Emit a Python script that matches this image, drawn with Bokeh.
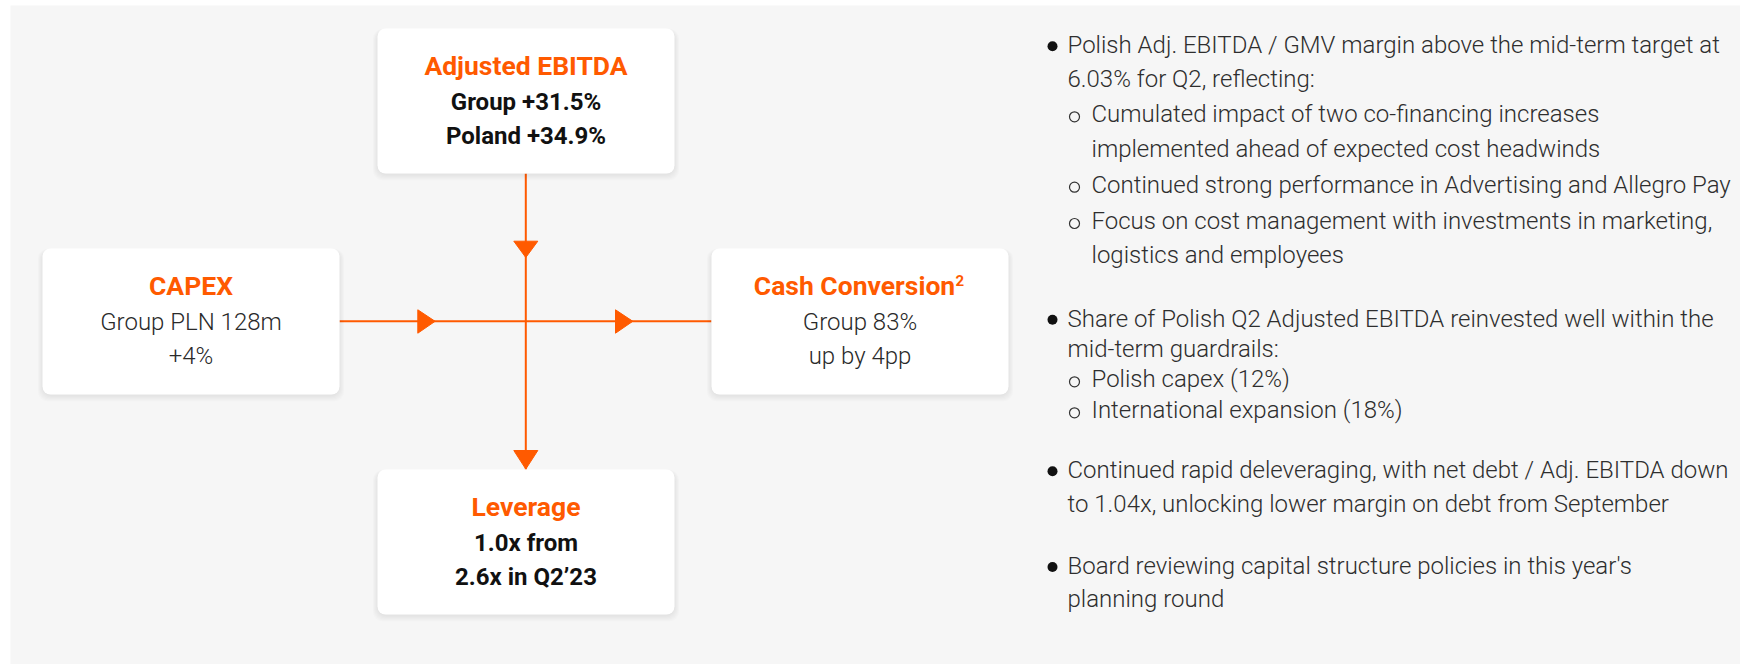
from bokeh.plotting import figure
from bokeh.models import Range1d
from bokeh.core.properties import value
from bokeh.embed import file_html
from bokeh.resources import INLINE

# ---------------- content ----------------
card_titles = ["Adjusted EBITDA", "CAPEX", "Cash Conversion", "Leverage"]
card_line1 = ["Group +31.5%", "Group PLN 128m", "Group 83%", "1.0x from"]
card_line2 = ["Poland +34.9%", "+4%", "up by 4pp", "2.6x in Q2\u201923"]
card_bold = [True, False, False, True]
title_sup = ["", "", "2", ""]

bullet_kinds = ["b", "c", "s", "sc", "s", "s", "sc", "b", "c", "s", "s", "b", "c", "b", "c"]
bullet_texts = [
    "Polish Adj. EBITDA / GMV margin above the mid-term target at",
    "6.03% for Q2, reflecting:",
    "Cumulated impact of two co-financing increases",
    "implemented ahead of expected cost headwinds",
    "Continued strong performance in Advertising and Allegro Pay",
    "Focus on cost management with investments in marketing,",
    "logistics and employees",
    "Share of Polish Q2 Adjusted EBITDA reinvested well within the",
    "mid-term guardrails:",
    "Polish capex (12%)",
    "International expansion (18%)",
    "Continued rapid deleveraging, with net debt / Adj. EBITDA down",
    "to 1.04x, unlocking lower margin on debt from September",
    "Board reviewing capital structure policies in this year's",
    "planning round",
]
bullet_baselines = [53.3, 86.7, 122.3, 156.7, 192.7, 229, 263.3,
                    326.7, 356.7, 387.3, 418.3, 478.3, 511.7, 574, 606.7]

# ---------------- layout (page pixels) ----------------
W, H = 1740, 664
ORANGE = "#ff5a00"
BG = "#f6f6f6"
BASE_FIX = 0.42  # shift so the glyph baseline lands on the wanted pixel row

card_l = [377, 42, 711, 377]
card_r = [674, 339, 1008, 674]
card_t = [28, 248, 248, 469]
card_b = [173, 394, 394, 614]


def by(base, size):
    return base - BASE_FIX * size


p = figure(width=W, height=H, x_range=Range1d(0, W), y_range=Range1d(H, 0),
           x_axis_type=None, y_axis_type=None, output_backend="svg",
           toolbar_location=None, min_border=0)
p.outline_line_color = None
p.background_fill_color = "white"
p.border_fill_color = "white"
p.grid.visible = False

# grey panel
p.quad(left=[10], right=[W + 2], top=[5], bottom=[H + 2],
       fill_color=BG, line_color=None)

# connector lines
cx_mid = 525.3
cy_mid = 320.8
p.segment(x0=[cx_mid], y0=[173], x1=[cx_mid], y1=[469],
          line_color=ORANGE, line_width=2)
p.segment(x0=[339], y0=[cy_mid], x1=[711], y1=[cy_mid],
          line_color=ORANGE, line_width=2)

# arrow heads
arr_xs = [
    [513.3, 537.3, cx_mid],
    [513.3, 537.3, cx_mid],
    [417.3, 417.3, 434.6],
    [615.0, 615.0, 632.3],
]
arr_ys = [
    [240.7, 240.7, 257.0],
    [450.0, 450.0, 468.6],
    [309.3, 332.7, cy_mid],
    [309.3, 332.7, cy_mid],
]
p.patches(xs=arr_xs, ys=arr_ys, fill_color=ORANGE, line_color=ORANGE, line_width=1)

# card shadows
for i in range(1, 7):
    p.quad(left=[v - i * 0.8 for v in card_l],
           right=[v + i * 0.8 for v in card_r],
           top=[v - i * 0.3 + 2 for v in card_t],
           bottom=[v + i * 1.0 + 1 for v in card_b],
           fill_color="black", fill_alpha=0.013, line_color=None,
           border_radius=10)

# cards
p.quad(left=card_l, right=card_r, top=card_t, bottom=card_b,
       fill_color="white", line_color=None, border_radius=8)

# card texts
ccx = [(l + r) / 2 for l, r in zip(card_l, card_r)]
title_x = [c - 5.5 if title_sup[i] else c for i, c in enumerate(ccx)]
p.text(x=title_x, y=[by(t + 48, 26) for t in card_t], text=card_titles,
       text_font=value("Roboto"), text_font_style="bold", text_font_size="26.5px",
       text_color=ORANGE, text_align="center", text_baseline="alphabetic")

# superscript
sup_idx = [i for i, s in enumerate(title_sup) if s]
p.text(x=[955 for i in sup_idx], y=[by(card_t[i] + 38, 15) for i in sup_idx],
       text=[title_sup[i] for i in sup_idx],
       text_font=value("Roboto"), text_font_style="bold", text_font_size="15px",
       text_color=ORANGE, text_align="left", text_baseline="alphabetic")

for bold in (True, False):
    idx = [i for i in range(4) if card_bold[i] == bold]
    xs = [ccx[i] for i in idx] * 2
    ys = [by(card_t[i] + 83.5, 24) for i in idx] + [by(card_t[i] + 118, 24) for i in idx]
    tx = [card_line1[i] for i in idx] + [card_line2[i] for i in idx]
    if bold:
        p.text(x=xs, y=ys, text=tx, text_font=value("Roboto"), text_font_style="bold",
               text_font_size="24px", text_color="#111111", text_align="center",
               text_baseline="alphabetic")
    else:
        p.text(x=xs, y=ys, text=tx, text_font=value("Roboto Light"),
               text_font_size="24px", text_color="#2a2a2a", text_align="center",
               text_baseline="alphabetic")

# bullet text block
BUL_X = 1052
TXT_X = 1067
SUB_BUL_X = 1074
SUB_TXT_X = 1091
txt_x, txt_y = [], []
dot_x, dot_y, ring_x, ring_y = [], [], [], []
for kind, base in zip(bullet_kinds, bullet_baselines):
    txt_x.append(TXT_X if kind in ("b", "c") else SUB_TXT_X)
    txt_y.append(by(base + 1.5, 24))
    if kind == "b":
        dot_x.append(BUL_X); dot_y.append(base - 7.5)
    elif kind == "s":
        ring_x.append(SUB_BUL_X); ring_y.append(base - 6)

p.text(x=txt_x, y=txt_y, text=bullet_texts, text_font=value("Roboto Light"),
       text_font_size="24px", text_color="#2e2e2e", text_align="left",
       text_baseline="alphabetic")
p.scatter(x=dot_x, y=dot_y, size=10, marker="circle", fill_color="#111111",
          line_color=None)
p.scatter(x=ring_x, y=ring_y, size=10, marker="circle", fill_color=None,
          line_color="#333333", line_width=1.2)

open("out.html", "w").write(file_html(p, INLINE))
